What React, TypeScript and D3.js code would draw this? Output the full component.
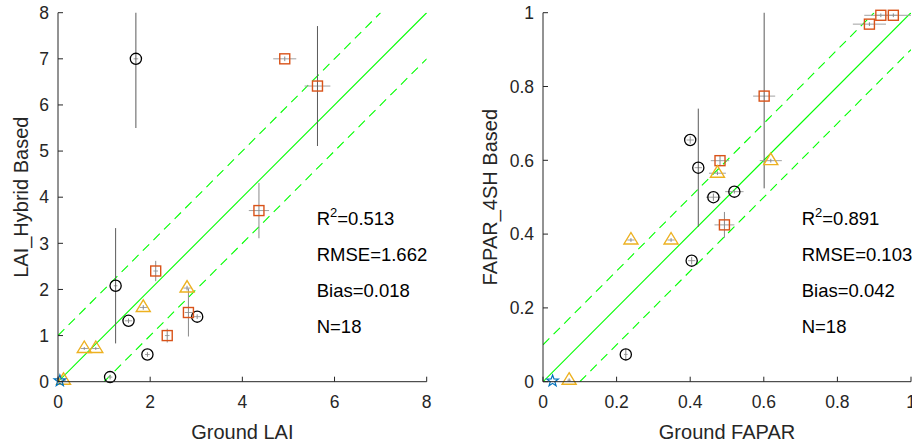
import React from "react";
import * as d3 from "d3";

type Pt = { x: number; y: number; xe: number; ye: number };

// ---- LAI panel ----
const laiCircles: Pt[] = [
  { x: 1.69, y: 7.0, xe: 0.05, ye: 1.5 },
  { x: 1.25, y: 2.08, xe: 0.04, ye: 1.25 },
  { x: 1.53, y: 1.32, xe: 0.08, ye: 0.05 },
  { x: 1.94, y: 0.59, xe: 0.05, ye: 0.05 },
  { x: 1.13, y: 0.1, xe: 0.05, ye: 0.05 },
  { x: 3.02, y: 1.41, xe: 0.08, ye: 0.05 },
];
const laiSquares: Pt[] = [
  { x: 4.92, y: 7.0, xe: 0.25, ye: 0.05 },
  { x: 5.63, y: 6.41, xe: 0.28, ye: 1.3 },
  { x: 4.36, y: 3.71, xe: 0.22, ye: 0.6 },
  { x: 2.12, y: 2.4, xe: 0.05, ye: 0.22 },
  { x: 2.37, y: 1.0, xe: 0.05, ye: 0.15 },
  { x: 2.83, y: 1.5, xe: 0.08, ye: 0.52 },
];
const laiTriangles: Pt[] = [
  { x: 0.12, y: 0.03, xe: 0.05, ye: 0.03 },
  { x: 0.57, y: 0.72, xe: 0.08, ye: 0.03 },
  { x: 0.82, y: 0.72, xe: 0.08, ye: 0.03 },
  { x: 1.85, y: 1.61, xe: 0.08, ye: 0.05 },
  { x: 2.8, y: 2.03, xe: 0.08, ye: 0.05 },
];
const laiStars: Pt[] = [{ x: 0.04, y: 0.02, xe: 0, ye: 0 }];
const laiTicksX = [0, 2, 4, 6, 8];
const laiTicksY = [0, 1, 2, 3, 4, 5, 6, 7, 8];
const laiStats = ["0.513", "RMSE=1.662", "Bias=0.018", "N=18"];

// ---- FAPAR panel ----
const faparCircles: Pt[] = [
  { x: 0.4, y: 0.655, xe: 0.01, ye: 0.01 },
  { x: 0.422, y: 0.58, xe: 0.01, ye: 0.16 },
  { x: 0.463, y: 0.5, xe: 0.02, ye: 0.01 },
  { x: 0.52, y: 0.515, xe: 0.025, ye: 0.005 },
  { x: 0.404, y: 0.328, xe: 0.01, ye: 0.01 },
  { x: 0.225, y: 0.074, xe: 0.005, ye: 0.015 },
];
const faparSquares: Pt[] = [
  { x: 0.887, y: 0.969, xe: 0.045, ye: 0.005 },
  { x: 0.918, y: 0.993, xe: 0.045, ye: 0.005 },
  { x: 0.952, y: 0.993, xe: 0.05, ye: 0.005 },
  { x: 0.601, y: 0.774, xe: 0.03, ye: 0.25 },
  { x: 0.481, y: 0.599, xe: 0.025, ye: 0.015 },
  { x: 0.493, y: 0.425, xe: 0.027, ye: 0.035 },
];
const faparTriangles: Pt[] = [
  { x: 0.619, y: 0.599, xe: 0.03, ye: 0.005 },
  { x: 0.474, y: 0.565, xe: 0.023, ye: 0.005 },
  { x: 0.239, y: 0.384, xe: 0.01, ye: 0.005 },
  { x: 0.348, y: 0.384, xe: 0.01, ye: 0.005 },
  { x: 0.071, y: 0.004, xe: 0.005, ye: 0.005 },
];
const faparStars: Pt[] = [{ x: 0.026, y: 0.002, xe: 0, ye: 0 }];
const faparTicksX = [0, 0.2, 0.4, 0.6, 0.8, 1];
const faparTicksY = [0, 0.2, 0.4, 0.6, 0.8, 1];
const faparStats = ["0.891", "RMSE=0.103", "Bias=0.042", "N=18"];

const FONT = "'Liberation Sans', Arial, Helvetica, sans-serif";
const AXIS = "#262626";
const GREEN = "#00ff00";
const C_CIRCLE = "#000000";
const C_SQUARE = "#D95319";
const C_TRI = "#EDB120";
const C_STAR = "#0072BD";

type PanelProps = {
  id: string;
  x0: number;
  x1: number;
  y0: number;
  y1: number;
  max: number;
  band: number;
  ticksX: number[];
  ticksY: number[];
  fmt: (v: number) => string;
  xLabel: string;
  yLabel: string;
  yLabelX: number;
  statsX: number;
  stats: string[];
  circles: Pt[];
  squares: Pt[];
  triangles: Pt[];
  stars: Pt[];
};

function starPath(cx: number, cy: number, r: number) {
  const pts: string[] = [];
  for (let i = 0; i < 10; i++) {
    const a = -Math.PI / 2 + (i * Math.PI) / 5;
    const rr = i % 2 === 0 ? r : r * 0.4;
    pts.push(`${cx + rr * Math.cos(a)},${cy + rr * Math.sin(a)}`);
  }
  return "M" + pts.join("L") + "Z";
}

function Panel(p: PanelProps) {
  const xs = d3.scaleLinear().domain([0, p.max]).range([p.x0, p.x1]);
  const ys = d3.scaleLinear().domain([0, p.max]).range([p.y0, p.y1]);
  const line = d3
    .line<[number, number]>()
    .x((d) => xs(d[0]))
    .y((d) => ys(d[1]));
  const clipId = `clip-${p.id}`;
  const all = [...p.circles, ...p.squares, ...p.triangles, ...p.stars];

  const errBars = all.map((d, i) => (
    <g key={`e${i}`}>
      {d.xe > 0 && (
        <line
          x1={xs(d.x - d.xe)}
          x2={xs(d.x + d.xe)}
          y1={ys(d.y)}
          y2={ys(d.y)}
          stroke="#a0a0a0"
          strokeWidth={1}
        />
      )}
      {d.ye > 0 && (
        <line
          x1={xs(d.x)}
          x2={xs(d.x)}
          y1={ys(d.y - d.ye)}
          y2={ys(d.y + d.ye)}
          stroke={d.ye > 0.1 * p.max ? "#5a5a5a" : "#8a8a8a"}
          strokeWidth={1}
        />
      )}
    </g>
  ));

  return (
    <g>
      <defs>
        <clipPath id={clipId}>
          <rect x={p.x0} y={p.y1} width={p.x1 - p.x0} height={p.y0 - p.y1} />
        </clipPath>
      </defs>
      <g clipPath={`url(#${clipId})`}>
        <path
          d={line([[0, 0], [p.max, p.max]]) || ""}
          stroke={GREEN}
          strokeWidth={1.1}
          fill="none"
        />
        <path
          d={line([[0, p.band], [p.max - p.band, p.max]]) || ""}
          stroke={GREEN}
          strokeWidth={1.1}
          strokeDasharray="9,6"
          fill="none"
        />
        <path
          d={line([[p.band, 0], [p.max, p.max - p.band]]) || ""}
          stroke={GREEN}
          strokeWidth={1.1}
          strokeDasharray="9,6"
          fill="none"
        />
        {errBars}
      </g>
      {p.circles.map((d, i) => (
        <circle
          key={`c${i}`}
          cx={xs(d.x)}
          cy={ys(d.y)}
          r={5.6}
          fill="none"
          stroke={C_CIRCLE}
          strokeWidth={1.3}
        />
      ))}
      {p.squares.map((d, i) => (
        <rect
          key={`s${i}`}
          x={xs(d.x) - 5}
          y={ys(d.y) - 5}
          width={10}
          height={10}
          fill="none"
          stroke={C_SQUARE}
          strokeWidth={1.4}
        />
      ))}
      {p.triangles.map((d, i) => {
        const cx = xs(d.x);
        const cy = ys(d.y);
        return (
          <path
            key={`t${i}`}
            d={`M${cx},${cy - 7.5}L${cx + 7},${cy + 4}L${cx - 7},${cy + 4}Z`}
            fill="none"
            stroke={C_TRI}
            strokeWidth={1.4}
          />
        );
      })}
      {p.stars.map((d, i) => (
        <path
          key={`st${i}`}
          d={starPath(xs(d.x), ys(d.y), 6)}
          fill="none"
          stroke={C_STAR}
          strokeWidth={1.2}
        />
      ))}
      {/* axes */}
      <line x1={p.x0} x2={p.x1} y1={p.y0} y2={p.y0} stroke={AXIS} strokeWidth={1} />
      <line x1={p.x0} x2={p.x0} y1={p.y0} y2={p.y1} stroke={AXIS} strokeWidth={1} />
      {p.ticksX.map((t) => (
        <g key={`tx${t}`}>
          <line
            x1={xs(t)}
            x2={xs(t)}
            y1={p.y0}
            y2={p.y0 - 5}
            stroke={AXIS}
            strokeWidth={1}
          />
          <text
            x={xs(t)}
            y={p.y0 + 26.5}
            textAnchor="middle"
            fontSize={17.5}
            fill={AXIS}
            fontFamily={FONT}
          >
            {p.fmt(t)}
          </text>
        </g>
      ))}
      {p.ticksY.map((t) => (
        <g key={`ty${t}`}>
          <line
            x1={p.x0}
            x2={p.x0 + 5}
            y1={ys(t)}
            y2={ys(t)}
            stroke={AXIS}
            strokeWidth={1}
          />
          <text
            x={p.x0 - 9}
            y={ys(t) + 6.2}
            textAnchor="end"
            fontSize={17.5}
            fill={AXIS}
            fontFamily={FONT}
          >
            {p.fmt(t)}
          </text>
        </g>
      ))}
      <text
        x={(p.x0 + p.x1) / 2}
        y={438.5}
        textAnchor="middle"
        fontSize={20}
        fill={AXIS}
        fontFamily={FONT}
      >
        {p.xLabel}
      </text>
      <text
        transform={`translate(${p.yLabelX},${(p.y0 + p.y1) / 2}) rotate(-90)`}
        textAnchor="middle"
        fontSize={20}
        fill={AXIS}
        fontFamily={FONT}
      >
        {p.yLabel}
      </text>
      {/* statistics */}
      <text x={p.statsX} y={224.5} fontSize={18.5} fill="#000" fontFamily={FONT}>
        R
        <tspan fontSize={13} dy={-7.5}>
          2
        </tspan>
        <tspan dy={7.5}>={p.stats[0]}</tspan>
      </text>
      {p.stats.slice(1).map((s, i) => (
        <text
          key={s}
          x={p.statsX}
          y={260.7 + i * 36.3}
          fontSize={18.5}
          fill="#000"
          fontFamily={FONT}
        >
          {s}
        </text>
      ))}
    </g>
  );
}

export default function App() {
  return (
    <svg
      width={912}
      height={445}
      style={{ position: "absolute", left: 0, top: 0, background: "#fff" }}
    >
      <rect width={912} height={445} fill="#fff" />
      <Panel
        id="lai"
        x0={58}
        x1={426.7}
        y0={381.7}
        y1={12.7}
        max={8}
        band={1}
        ticksX={laiTicksX}
        ticksY={laiTicksY}
        fmt={(v) => String(v)}
        xLabel="Ground LAI"
        yLabel="LAI_Hybrid Based"
        yLabelX={27.5}
        statsX={316.7}
        stats={laiStats}
        circles={laiCircles}
        squares={laiSquares}
        triangles={laiTriangles}
        stars={laiStars}
      />
      <Panel
        id="fapar"
        x0={543}
        x1={911}
        y0={381.7}
        y1={12.7}
        max={1}
        band={0.1}
        ticksX={faparTicksX}
        ticksY={faparTicksY}
        fmt={(v) => String(v)}
        xLabel="Ground FAPAR"
        yLabel="FAPAR_4SH Based"
        yLabelX={497}
        statsX={801.7}
        stats={faparStats}
        circles={faparCircles}
        squares={faparSquares}
        triangles={faparTriangles}
        stars={faparStars}
      />
    </svg>
  );
}
